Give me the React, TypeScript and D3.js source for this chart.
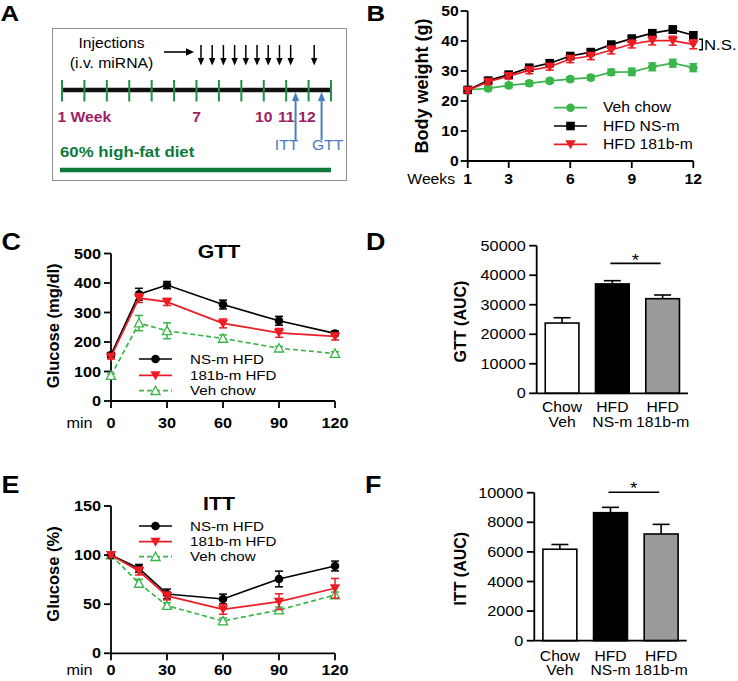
import React from 'react';
import * as d3 from 'd3';

const FONT = '"Liberation Sans", Arial, Helvetica, sans-serif';
const SX = 1.12;
const RED = '#ec1c24';
const GREEN = '#3ab54a';
const BLUE = '#4a7cc0';
const MAGENTA = '#9e2262';
const TICKGREEN = '#1f8f4a';
const DIETGREEN = '#0d7a3c';

// ---------- Panel A ----------
const timelineTicks = [1, 2, 3, 4, 5, 6, 7, 8, 9, 10, 11, 12, 13];
const weekLabelWeeks = [7, 10, 11, 12];
const weekLabelTexts = ['7', '10', '11', '12'];
const injectionWeeks = [7.2, 7.7, 8.2, 8.7, 9.2, 9.7, 10.2, 10.7, 11.2, 12.25];
const testWeeks = [11.42, 12.58];
const testLabels = ['ITT', 'GTT'];

// ---------- Panel B ----------
const bwWeeks = [1, 2, 3, 4, 5, 6, 7, 8, 9, 10, 11, 12];
const bwVeh = [23.7, 24.2, 25.2, 25.9, 26.7, 27.3, 27.8, 29.6, 29.7, 31.4, 32.6, 31.1];
const bwVehErr = [0.8, 0.8, 0.8, 0.8, 0.8, 0.8, 0.8, 1.0, 1.2, 1.3, 1.3, 1.3];
const bwNS = [23.7, 26.8, 28.8, 31.1, 32.6, 35.0, 36.3, 38.8, 40.8, 42.6, 43.8, 41.9];
const bwNSErr = [0.6, 0.8, 0.8, 0.8, 0.8, 0.9, 0.9, 1.0, 1.0, 1.1, 1.2, 1.2];
const bwMiR = [23.5, 26.4, 28.3, 30.2, 31.4, 34.0, 35.0, 37.0, 39.0, 40.1, 40.1, 38.9];
const bwMiRErr = [0.7, 0.9, 1.0, 1.1, 1.1, 1.2, 1.2, 1.3, 1.3, 1.4, 1.5, 1.5];
const bwYTicks = [0, 10, 20, 30, 40, 50];
const bwXTicks = [1, 3, 6, 9, 12];
const bwLegend = ['Veh chow', 'HFD NS-m', 'HFD 181b-m'];

// ---------- Panel C (GTT) ----------
const times = [0, 15, 30, 60, 90, 120];
const gttNS = [156, 362, 393, 327, 272, 229];
const gttNSErr = [8, 20, 12, 15, 15, 8];
const gttMiR = [150, 349, 336, 263, 231, 219];
const gttMiRErr = [8, 15, 12, 15, 15, 12];
const gttVeh = [86, 264, 238, 212, 179, 161];
const gttVehErr = [6, 26, 27, 12, 6, 6];
const gttYTicks = [0, 100, 200, 300, 400, 500];
const timeTicks = [0, 30, 60, 90, 120];
const curveLegend = ['NS-m HFD', '181b-m HFD', 'Veh chow'];

// ---------- Panel E (ITT) ----------
const ittNS = [100, 86.5, 60.4, 55.3, 75.7, 88.9];
const ittNSErr = [2, 4, 5, 5, 8, 5];
const ittMiR = [100, 83.8, 58.4, 44.8, 52.6, 66.2];
const ittMiRErr = [2, 4, 4, 5, 8, 10];
const ittVeh = [100, 71.3, 48.5, 32.9, 44.1, 59.4];
const ittVehErr = [2, 4, 3, 3, 3, 3];
const ittYTicks = [0, 50, 100, 150];

// ---------- Panels D, F (AUC bars) ----------
const barCats1 = ['Chow', 'HFD', 'HFD'];
const barCats2 = ['Veh', 'NS-m', '181b-m'];
const barFills = ['#ffffff', '#000000', '#9a9a9a'];
const gttAUC = [23800, 37050, 32050];
const gttAUCErr = [1800, 1100, 1250];
const gttAUCTicks = [0, 10000, 20000, 30000, 40000, 50000];
const ittAUC = [6180, 8650, 7210];
const ittAUCErr = [320, 360, 650];
const ittAUCTicks = [0, 2000, 4000, 6000, 8000, 10000];

type Kind = 'circle' | 'square' | 'down' | 'upOpen';

function T(props: any) {
  const { x, y, size = 14, weight = 'normal', anchor = 'start', fill = '#000', sx = SX, children, baseline, rotate } = props;
  const tr = rotate
    ? `translate(${x},${y}) rotate(${rotate})`
    : `translate(${x},${y}) scale(${sx},1)`;
  return (
    <text
      transform={tr}
      fontSize={size}
      fontWeight={weight}
      textAnchor={anchor}
      fill={fill}
      fontFamily={FONT}
      dominantBaseline={baseline}
    >
      {children}
    </text>
  );
}

function Marker({ kind, cx, cy, color }: { kind: Kind; cx: number; cy: number; color: string }) {
  if (kind === 'circle') return <circle cx={cx} cy={cy} r={4.3} fill={color} />;
  if (kind === 'square') return <rect x={cx - 4.3} y={cy - 4.3} width={8.6} height={8.6} fill={color} />;
  if (kind === 'down')
    return <path d={`M${cx - 5.2},${cy - 4}L${cx + 5.2},${cy - 4}L${cx},${cy + 5}Z`} fill={color} />;
  return (
    <path
      d={`M${cx - 4.6},${cy + 3.8}L${cx + 4.6},${cy + 3.8}L${cx},${cy - 4.6}Z`}
      fill="#fff"
      stroke={color}
      strokeWidth={1.3}
    />
  );
}

function Series(props: any) {
  const { xs, ys, errs, x, y, color, kind, dashed, capW = 4 } = props;
  const line = d3
    .line<number>()
    .x((_, i) => x(xs[i]))
    .y((d) => y(d));
  return (
    <g>
      <path
        d={line(ys) || ''}
        fill="none"
        stroke={color}
        strokeWidth={1.7}
        strokeDasharray={dashed ? '5,3' : undefined}
      />
      {ys.map((v: number, i: number) => {
        const cx = x(xs[i]);
        const top = y(v + errs[i]);
        const bot = y(v - errs[i]);
        return (
          <g key={i} stroke={color} strokeWidth={1.5}>
            <line x1={cx} x2={cx} y1={top} y2={bot} />
            <line x1={cx - capW} x2={cx + capW} y1={top} y2={top} />
            <line x1={cx - capW} x2={cx + capW} y1={bot} y2={bot} />
          </g>
        );
      })}
      {ys.map((v: number, i: number) => (
        <Marker key={'m' + i} kind={kind} cx={x(xs[i])} cy={y(v)} color={color} />
      ))}
    </g>
  );
}

function LegendRow(props: any) {
  const { x1, x2, y, color, kind, dashed, label, tx, size = 14 } = props;
  return (
    <g>
      <line x1={x1} x2={x2} y1={y} y2={y} stroke={color} strokeWidth={1.7} strokeDasharray={dashed ? '5,3' : undefined} />
      <Marker kind={kind} cx={(x1 + x2) / 2} cy={y} color={color} />
      <T x={tx} y={y} size={size} baseline="central">
        {label}
      </T>
    </g>
  );
}

function YAxis(props: any) {
  const { x, y, ticks, bold, size = 14, labelGap = 10, fmt = (d: number) => String(d) } = props;
  const r = y.range();
  return (
    <g>
      <line x1={x} x2={x} y1={r[0]} y2={r[1]} stroke="#000" strokeWidth={1.8} />
      {ticks.map((t: number) => (
        <g key={t}>
          <line x1={x - 7} x2={x} y1={y(t)} y2={y(t)} stroke="#000" strokeWidth={1.8} />
          <T x={x - labelGap} y={y(t)} size={size} weight={bold ? 'bold' : 'normal'} anchor="end" baseline="central">
            {fmt(t)}
          </T>
        </g>
      ))}
    </g>
  );
}

function XAxisLin(props: any) {
  const { x, yPos, ticks, labelY, size = 14 } = props;
  const r = x.range();
  return (
    <g>
      <line x1={r[0]} x2={r[1]} y1={yPos} y2={yPos} stroke="#000" strokeWidth={1.8} />
      {ticks.map((t: number) => (
        <g key={t}>
          <line x1={x(t)} x2={x(t)} y1={yPos} y2={yPos + 7} stroke="#000" strokeWidth={1.8} />
          <T x={x(t)} y={labelY} size={size} weight="bold" anchor="middle">
            {String(t)}
          </T>
        </g>
      ))}
    </g>
  );
}

function BarPanel(props: any) {
  const { values, errs, y, xRange, ticks, label, labelX, sigY, starDy, cat1Y, cat2Y } = props;
  const idx = values.map((_: number, i: number) => String(i));
  const xb = d3.scaleBand<string>().domain(idx).range(xRange).paddingInner(0.33).paddingOuter(0.17);
  const y0 = y(0);
  const bw = xb.bandwidth();
  const c1 = (xb('1') as number) + bw / 2;
  const c2 = (xb('2') as number) + bw / 2;
  const yr = y.range();
  return (
    <g>
      {values.map((v: number, i: number) => {
        const bx = xb(String(i)) as number;
        const cx = bx + bw / 2;
        const top = y(v);
        const et = y(v + errs[i]);
        return (
          <g key={i}>
            <line x1={cx} x2={cx} y1={top} y2={et} stroke="#000" strokeWidth={1.6} />
            <line x1={cx - 8.5} x2={cx + 8.5} y1={et} y2={et} stroke="#000" strokeWidth={1.6} />
            <rect x={bx} y={top} width={bw} height={y0 - top} fill={barFills[i]} stroke="#000" strokeWidth={1.6} />
            <T x={cx} y={cat1Y} size={14} anchor="middle">
              {barCats1[i]}
            </T>
            <T x={cx} y={cat2Y} size={14} anchor="middle">
              {barCats2[i]}
            </T>
          </g>
        );
      })}
      <line x1={xRange[0]} x2={xRange[1]} y1={y0} y2={y0} stroke="#000" strokeWidth={1.8} />
      <line x1={xRange[0]} x2={xRange[0]} y1={yr[0]} y2={yr[1]} stroke="#000" strokeWidth={1.8} />
      {ticks.map((t: number) => (
        <g key={t}>
          <line x1={xRange[0] - 7.5} x2={xRange[0]} y1={y(t)} y2={y(t)} stroke="#000" strokeWidth={1.8} />
          <T x={xRange[0] - 11} y={y(t)} size={14.5} anchor="end" baseline="central">
            {String(t)}
          </T>
        </g>
      ))}
      <line x1={c1 - 2} x2={c2 - 2} y1={y(sigY)} y2={y(sigY)} stroke="#000" strokeWidth={1.6} />
      <T x={(c1 + c2) / 2 - 2} y={y(sigY) + starDy} size={17} anchor="middle">
        *
      </T>
      <T x={labelX} y={(yr[0] + yr[1]) / 2 + 2} size={16} weight="bold" anchor="middle" baseline="central" rotate={-90}>
        {label}
      </T>
    </g>
  );
}

function PanelA() {
  const xA = d3.scaleLinear().domain([1, 13]).range([62, 331]);
  return (
    <g>
      <rect x={52.5} y={28.5} width={294} height={152} fill="#fff" stroke="#8f8f8f" strokeWidth={1} />
      <T x={111.5} y={47.5} size={14} anchor="middle">Injections</T>
      <T x={111.5} y={68} size={14} anchor="middle">(i.v. miRNA)</T>
      <line x1={164} x2={188} y1={52} y2={52} stroke="#000" strokeWidth={1.6} />
      <path d="M186,48.3L194,52L186,55.7Z" fill="#000" />
      {injectionWeeks.map((w, i) => (
        <g key={i}>
          <line x1={xA(w)} x2={xA(w)} y1={45} y2={60} stroke="#000" strokeWidth={1.5} />
          <path d={`M${xA(w) - 3.2},${58}L${xA(w) + 3.2},${58}L${xA(w)},${65.5}Z`} fill="#000" />
        </g>
      ))}
      <line x1={xA(1)} x2={xA(13)} y1={90} y2={90} stroke="#111" strokeWidth={4.5} />
      {timelineTicks.map((w) => (
        <line key={w} x1={xA(w)} x2={xA(w)} y1={80} y2={101.5} stroke={TICKGREEN} strokeWidth={2} />
      ))}
      <T x={xA(1) - 4.5} y={122} size={14} weight="bold" fill={MAGENTA}>1 Week</T>
      {weekLabelWeeks.map((w, i) => (
        <T key={w} x={xA(w) - (w === 12 ? 1.5 : 0)} y={122} size={14} weight="bold" anchor="middle" fill={MAGENTA}>
          {weekLabelTexts[i]}
        </T>
      ))}
      {testWeeks.map((w, i) => (
        <g key={i}>
          <line x1={xA(w)} x2={xA(w)} y1={140} y2={100} stroke={BLUE} strokeWidth={2} />
          <path d={`M${xA(w) - 3.6},${101}L${xA(w) + 3.6},${101}L${xA(w)},${92}Z`} fill={BLUE} />
          <T x={xA(w) + (i === 0 ? -9 : 6)} y={150} size={14} anchor="middle" fill={BLUE}>
            {testLabels[i]}
          </T>
        </g>
      ))}
      <T x={60} y={157} size={15} weight="bold" fill={DIETGREEN}>60% high-fat diet</T>
      <line x1={60} x2={331} y1={170} y2={170} stroke={DIETGREEN} strokeWidth={4.3} />
    </g>
  );
}

function PanelB() {
  const x = d3.scaleLinear().domain([1, 12]).range([467.7, 693.3]);
  const y = d3.scaleLinear().domain([0, 50]).range([161, 11]);
  return (
    <g>
      <YAxis x={467.7} y={y} ticks={bwYTicks} bold size={14} labelGap={9} />
      <XAxisLin x={x} yPos={161} ticks={bwXTicks} labelY={184.3} size={14} />
      <T x={455} y={184.3} size={14} anchor="end">Weeks</T>
      <T x={421.5} y={86} size={18} weight="bold" anchor="middle" baseline="central" rotate={-90}>
        Body weight (g)
      </T>
      <Series xs={bwWeeks} ys={bwVeh} errs={bwVehErr} x={x} y={y} color={GREEN} kind="circle" />
      <Series xs={bwWeeks} ys={bwNS} errs={bwNSErr} x={x} y={y} color="#000" kind="square" />
      <Series xs={bwWeeks} ys={bwMiR} errs={bwMiRErr} x={x} y={y} color={RED} kind="down" />
      <path d="M699,39.3H702.3V49.8H699" fill="none" stroke="#000" strokeWidth={1.4} />
      <T x={704} y={44.8} size={15} baseline="central">N.S.</T>
      <LegendRow x1={554} x2={587} y={107.7} color={GREEN} kind="circle" label={bwLegend[0]} tx={603} />
      <LegendRow x1={554} x2={587} y={126} color="#000" kind="square" label={bwLegend[1]} tx={603} />
      <LegendRow x1={554} x2={587} y={144.3} color={RED} kind="down" label={bwLegend[2]} tx={603} />
    </g>
  );
}

function CurvePanel(props: any) {
  const { y, yTicks, yAxisLabel, title, titleY, labelCY, tickY, ns, nsE, mi, miE, veh, vehE, legendYs } = props;
  const x = d3.scaleLinear().domain([0, 120]).range([111, 335]);
  const yr = y.range();
  return (
    <g>
      <YAxis x={111} y={y} ticks={yTicks} bold size={14.5} labelGap={10} />
      <XAxisLin x={x} yPos={yr[0]} ticks={timeTicks} labelY={tickY} size={14.5} />
      <T x={66.5} y={tickY} size={14.5}>min</T>
      <T x={53.3} y={labelCY} size={16.5} weight="bold" anchor="middle" baseline="central" rotate={-90}>
        {yAxisLabel}
      </T>
      <T x={219} y={titleY} size={19} weight="bold" anchor="middle">{title}</T>
      <Series xs={times} ys={veh} errs={vehE} x={x} y={y} color={GREEN} kind="upOpen" dashed />
      <Series xs={times} ys={ns} errs={nsE} x={x} y={y} color="#000" kind="circle" />
      <Series xs={times} ys={mi} errs={miE} x={x} y={y} color={RED} kind="down" />
      <LegendRow x1={139} x2={172} y={legendYs[0]} color="#000" kind="circle" label={curveLegend[0]} tx={190} size={13.5} />
      <LegendRow x1={139} x2={172} y={legendYs[1]} color={RED} kind="down" label={curveLegend[1]} tx={190} size={13.5} />
      <LegendRow x1={139} x2={172} y={legendYs[2]} color={GREEN} kind="upOpen" dashed label={curveLegend[2]} tx={190} size={13.5} />
    </g>
  );
}

export default function App() {
  const yC = d3.scaleLinear().domain([0, 500]).range([401, 253.5]);
  const yE = d3.scaleLinear().domain([0, 150]).range([653.3, 506]);
  const yD = d3.scaleLinear().domain([0, 50000]).range([393.3, 245.7]);
  const yF = d3.scaleLinear().domain([0, 10000]).range([640.7, 492.7]);
  return (
    <svg
      width={738}
      height={681}
      viewBox="0 0 738 681"
      style={{ position: 'absolute', left: 0, top: 0, background: '#fff' }}
    >
      <rect x={0} y={0} width={738} height={681} fill="#fff" />
      <T x={0.5} y={21} size={23} weight="bold">A</T>
      <T x={366.5} y={21} size={23} weight="bold">B</T>
      <T x={1.5} y={250} size={24} weight="bold">C</T>
      <T x={366} y={250} size={24} weight="bold">D</T>
      <T x={1.5} y={493} size={24} weight="bold">E</T>
      <T x={365} y={493} size={24} weight="bold">F</T>
      <PanelA />
      <PanelB />
      <CurvePanel
        y={yC}
        yTicks={gttYTicks}
        yAxisLabel="Glucose (mg/dl)"
        title="GTT"
        titleY={258.3}
        labelCY={325.8}
        tickY={428}
        ns={gttNS}
        nsE={gttNSErr}
        mi={gttMiR}
        miE={gttMiRErr}
        veh={gttVeh}
        vehE={gttVehErr}
        legendYs={[359, 375.3, 390.7]}
      />
      <CurvePanel
        y={yE}
        yTicks={ittYTicks}
        yAxisLabel="Glucose (%)"
        title="ITT"
        titleY={510}
        labelCY={574}
        tickY={675}
        ns={ittNS}
        nsE={ittNSErr}
        mi={ittMiR}
        miE={ittMiRErr}
        veh={ittVeh}
        vehE={ittVehErr}
        legendYs={[526, 541.7, 556.7]}
      />
      <BarPanel
        values={gttAUC}
        errs={gttAUCErr}
        y={yD}
        xRange={[536.7, 688]}
        ticks={gttAUCTicks}
        label="GTT (AUC)"
        labelX={460}
        sigY={44000}
        starDy={2.5}
        cat1Y={411.7}
        cat2Y={427.3}
      />
      <BarPanel
        values={ittAUC}
        errs={ittAUCErr}
        y={yF}
        xRange={[534.3, 686.7]}
        ticks={ittAUCTicks}
        label="ITT (AUC)"
        labelX={460}
        sigY={10030}
        starDy={1.5}
        cat1Y={660.7}
        cat2Y={675}
      />
    </svg>
  );
}
